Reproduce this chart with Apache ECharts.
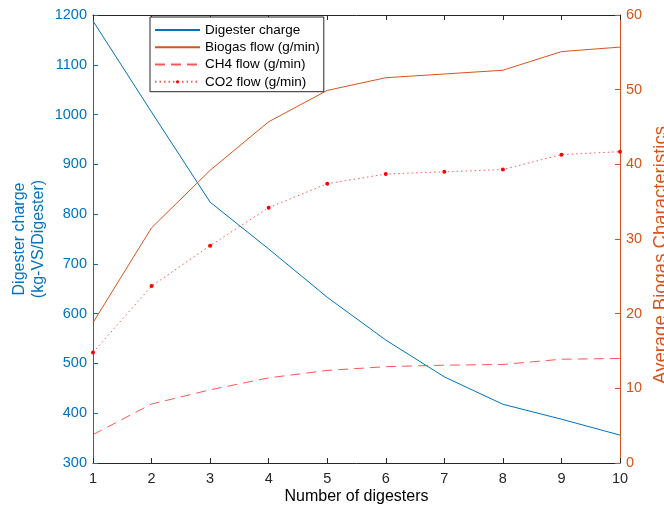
<!DOCTYPE html>
<html>
<head>
<meta charset="utf-8">
<script src="https://cdn.jsdelivr.net/npm/echarts@6/dist/echarts.min.js"></script>
<style>
html,body{margin:0;padding:0;background:#fff;}
#main{width:664px;height:510px;}
</style>
</head>
<body>
<div id="main"></div>
<script>
var digesters = [1, 2, 3, 4, 5, 6, 7, 8, 9, 10];
var digesterCharge = [1188, 1005, 824, 730, 633, 547, 473, 418, 388, 356];
var biogasFlow = [18.8, 31.5, 39.2, 45.7, 49.9, 51.6, 52.1, 52.6, 55.1, 55.7];
var ch4Flow = [3.8, 7.9, 9.8, 11.4, 12.4, 12.9, 13.1, 13.2, 13.9, 14.0];
var co2Flow = [14.8, 23.7, 29.1, 34.2, 37.4, 38.7, 39.0, 39.3, 41.3, 41.7];
var leftTicks = {min: 300, max: 1200, interval: 100};
var rightTicks = {min: 0, max: 60, interval: 10};

function pairs(ys) { return digesters.map(function (x, i) { return [x, ys[i]]; }); }

var FONT = "'Liberation Sans', Arial, Helvetica, sans-serif";
var BLUE = '#0072BD', ORANGE = '#D95319', RED = 'rgba(255,30,30,0.75)';

var chart = echarts.init(document.getElementById('main'), null, {renderer: 'canvas'});
chart.setOption({
  animation: false,
  backgroundColor: '#fff',
  textStyle: {fontFamily: FONT},
  grid: {left: 93, right: 44, top: 15, bottom: 47, containLabel: false, outerBoundsMode: 'none'},
  legend: {
    orient: 'vertical', left: 150, top: 17,
    padding: [5, 4, 2, 4],
    itemWidth: 45, itemHeight: 4, itemGap: 1.5,
    borderColor: '#262626', borderWidth: 1, backgroundColor: '#fff',
    textStyle: {fontSize: 13.5, color: '#000', fontFamily: FONT, lineHeight: 15.8},
    data: [
      {name: 'Digester charge', itemStyle: {opacity: 0}},
      {name: 'Biogas flow (g/min)', itemStyle: {opacity: 0}},
      {name: 'CH4 flow (g/min)', itemStyle: {opacity: 0}},
      {name: 'CO2 flow (g/min)'}
    ]
  },
  xAxis: [{
    type: 'value', min: 1, max: 10, interval: 1, position: 'bottom',
    name: 'Number of digesters', nameLocation: 'middle', nameGap: 26, nameMoveOverlap: false,
    nameTextStyle: {fontSize: 16, color: '#000', fontFamily: FONT},
    axisLine: {onZero: false, lineStyle: {color: '#262626', width: 1}},
    axisTick: {inside: true, length: 5, lineStyle: {color: '#262626'}},
    axisLabel: {fontSize: 14.5, color: '#262626', margin: 8, fontFamily: FONT},
    splitLine: {show: false}
  }, {
    type: 'value', min: 1, max: 10, interval: 1, position: 'top',
    axisLine: {onZero: false, lineStyle: {color: '#262626', width: 1}},
    axisTick: {inside: true, length: 5, lineStyle: {color: '#262626'}},
    axisLabel: {show: false},
    splitLine: {show: false}
  }],
  yAxis: [{
    type: 'value', position: 'left',
    min: leftTicks.min, max: leftTicks.max, interval: leftTicks.interval,
    name: 'Digester charge\n(kg-VS/Digester)', nameLocation: 'middle', nameGap: 45, nameRotate: 90,
    nameMoveOverlap: false,
    nameTextStyle: {fontSize: 16, color: BLUE, lineHeight: 19, fontFamily: FONT},
    axisLine: {show: true, onZero: false, lineStyle: {color: BLUE, width: 1}},
    axisTick: {show: true, inside: true, length: 5, lineStyle: {color: BLUE}},
    axisLabel: {fontSize: 14.5, color: BLUE, margin: 6, fontFamily: FONT,
      formatter: function (v) { return String(v); }},
    splitLine: {show: false}
  }, {
    type: 'value', position: 'right',
    min: rightTicks.min, max: rightTicks.max, interval: rightTicks.interval,
    name: 'Average Biogas Characteristics', nameLocation: 'middle', nameGap: 31, nameRotate: 90,
    nameMoveOverlap: false,
    nameTextStyle: {fontSize: 18.5, color: ORANGE, fontFamily: FONT, padding: [0, 32, 0, 0]},
    axisLine: {show: true, onZero: false, lineStyle: {color: ORANGE, width: 1}},
    axisTick: {show: true, inside: true, length: 5, lineStyle: {color: ORANGE}},
    axisLabel: {fontSize: 14.5, color: ORANGE, margin: 6, fontFamily: FONT},
    splitLine: {show: false}
  }],
  series: [{
    name: 'Digester charge', type: 'line', xAxisIndex: 0, yAxisIndex: 0,
    data: pairs(digesterCharge), symbol: 'none',
    lineStyle: {color: BLUE, width: 1}, itemStyle: {color: BLUE}
  }, {
    name: 'Biogas flow (g/min)', type: 'line', xAxisIndex: 0, yAxisIndex: 1,
    data: pairs(biogasFlow), symbol: 'none',
    lineStyle: {color: ORANGE, width: 1}, itemStyle: {color: ORANGE}
  }, {
    name: 'CH4 flow (g/min)', type: 'line', xAxisIndex: 0, yAxisIndex: 1,
    data: pairs(ch4Flow), symbol: 'none',
    lineStyle: {color: RED, width: 1, type: [10, 6]}, itemStyle: {color: RED}
  }, {
    name: 'CO2 flow (g/min)', type: 'line', xAxisIndex: 0, yAxisIndex: 1,
    data: pairs(co2Flow), symbol: 'circle', symbolSize: 4,
    lineStyle: {color: RED, width: 1, type: [1.5, 3]}, itemStyle: {color: '#ff0000'}
  }]
});
</script>
</body>
</html>
